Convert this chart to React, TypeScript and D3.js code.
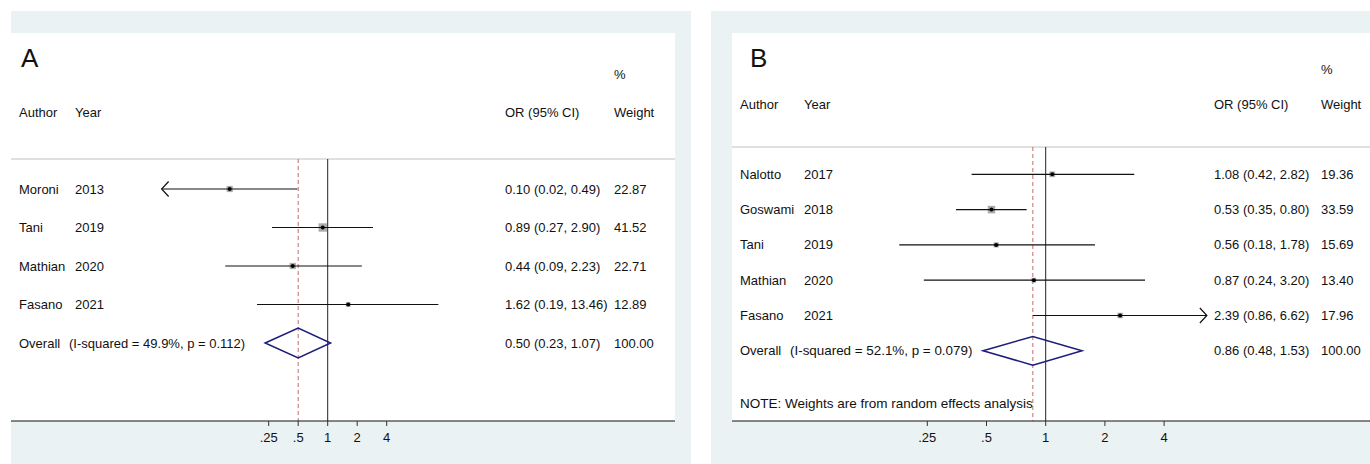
import React from 'react';
import * as d3 from 'd3';

// panel A data
const authorsA = ['Moroni', 'Tani', 'Mathian', 'Fasano'];
const yearsA = ['2013', '2019', '2020', '2021'];
const orA = [0.10, 0.89, 0.44, 1.62];
const lowA = [0.02, 0.27, 0.09, 0.19];
const highA = [0.49, 2.90, 2.23, 13.46];
const weightA = [22.87, 41.52, 22.71, 12.89];
const overallA = [0.50, 0.23, 1.07];
const hetA = '(I-squared = 49.9%, p = 0.112)';

// panel B data
const authorsB = ['Nalotto', 'Goswami', 'Tani', 'Mathian', 'Fasano'];
const yearsB = ['2017', '2018', '2019', '2020', '2021'];
const orB = [1.08, 0.53, 0.56, 0.87, 2.39];
const lowB = [0.42, 0.35, 0.18, 0.24, 0.86];
const highB = [2.82, 0.80, 1.78, 3.20, 6.62];
const weightB = [19.36, 33.59, 15.69, 13.40, 17.96];
const overallB = [0.86, 0.48, 1.53];
const hetB = '(I-squared = 52.1%, p = 0.079)';

const tickValues = [0.25, 0.5, 1, 2, 4];
const tickLabels = ['.25', '.5', '1', '2', '4'];

const BG = '#eaf2f3';
const FONT = '"Liberation Sans", Arial, Helvetica, sans-serif';
const fmt = (v) => v.toFixed(2);

function Panel(props) {
  const { p } = props;
  const n = p.authors.length;
  const x = d3.scaleLog().base(2).domain([0.25, 4]).range([p.x25, p.x4]);
  const y = d3.scaleLinear().domain([0, n]).range([p.firstY, p.lastY]);
  const top = p.sepY;
  const axisY = 421;

  const txt = (s, tx, ty, extra = {}) => (
    <text x={tx} y={ty} dy="0.35em" fontSize={13} fill="#111" {...extra}>{s}</text>
  );

  return (
    <g fontFamily={FONT}>
      {/* outer background and white plot region */}
      <rect x={p.outerX} y={11} width={p.outerW} height={453} fill={BG} />
      <rect x={p.innerX} y={33} width={p.innerW} height={axisY - 33} fill="#fff" />
      <line x1={p.innerX} x2={p.innerX + p.innerW} y1={top} y2={top} stroke="#d6d6d6" strokeWidth={1.5} />

      {txt(p.label, p.labelX, 58, { fontSize: 26 })}
      {txt('Author', p.nameX, p.headY)}
      {txt('Year', p.yearX, p.headY)}
      {txt('OR (95% CI)', p.orX, p.headY)}
      {txt('%', p.wX, p.pctY)}
      {txt('Weight', p.wX, p.headY)}

      {/* reference lines */}
      <line x1={x(1)} x2={x(1)} y1={top} y2={axisY} stroke="#222" strokeWidth={1} />
      <line x1={x(p.overall[0])} x2={x(p.overall[0])} y1={top} y2={axisY}
        stroke="#c0706f" strokeWidth={1} strokeDasharray="4,3" />

      {p.authors.map((a, i) => {
        const cy = y(i);
        const lo = Math.max(p.low[i], p.range[0]);
        const hi = Math.min(p.high[i], p.range[1]);
        const side = 1.3 * Math.sqrt(p.weight[i]);
        const cx = x(p.or[i]);
        return (
          <g key={a + i}>
            {txt(a, p.nameX, cy)}
            {txt(p.years[i], p.yearX, cy)}
            {txt(`${fmt(p.or[i])} (${fmt(p.low[i])}, ${fmt(p.high[i])})`, p.orX, cy)}
            {txt(fmt(p.weight[i]), p.wX, cy)}
            <rect x={cx - side / 2} y={cy - side / 2} width={side} height={side} fill="#ababab" />
            <line x1={x(lo)} x2={x(hi)} y1={cy} y2={cy} stroke="#111" strokeWidth={1.2} />
            <circle cx={cx} cy={cy} r={2} fill="#000" />
            {p.low[i] < p.range[0] && (
              <path d={`M${x(lo) + 7},${cy - 7.5}L${x(lo)},${cy}L${x(lo) + 7},${cy + 7.5}`}
                fill="none" stroke="#111" strokeWidth={1.2} />
            )}
            {p.high[i] > p.range[1] && (
              <path d={`M${x(hi) - 7},${cy - 7.5}L${x(hi)},${cy}L${x(hi) - 7},${cy + 7.5}`}
                fill="none" stroke="#111" strokeWidth={1.2} />
            )}
          </g>
        );
      })}

      {/* overall */}
      {txt('Overall', p.nameX, y(n))}
      {txt(p.het, p.nameX + 50, y(n), { fontSize: p.hetSize })}
      {txt(`${fmt(p.overall[0])} (${fmt(p.overall[1])}, ${fmt(p.overall[2])})`, p.orX, y(n))}
      {txt('100.00', p.wX, y(n))}
      <path
        d={`M${x(p.overall[1])},${y(n)}L${x(p.overall[0])},${y(n) - p.dh}L${x(p.overall[2])},${y(n)}L${x(p.overall[0])},${y(n) + p.dh}Z`}
        fill="none" stroke="#1c1c7c" strokeWidth={1.5} />

      {p.note && txt(p.note, p.nameX, 403, { fontSize: 13.5 })}

      {/* axis */}
      <line x1={p.innerX} x2={p.axisEnd} y1={axisY} y2={axisY} stroke="#111" strokeWidth={1} />
      {tickValues.map((t, i) => (
        <g key={t}>
          <line x1={x(t)} x2={x(t)} y1={axisY} y2={axisY + 5} stroke="#333" />
          <text x={x(t)} y={437} dy="0.35em" fontSize={13} textAnchor="middle" fill="#111">{tickLabels[i]}</text>
        </g>
      ))}
    </g>
  );
}

const panelAProps = {
  authors: authorsA, years: yearsA, or: orA, low: lowA, high: highA, weight: weightA,
  overall: overallA, het: hetA, hetSize: 13, label: 'A', range: [0.0202, 20],
  x25: 268.7, x4: 386.7, firstY: 189, lastY: 343, sepY: 159, dh: 15,
  outerX: 11, outerW: 680, innerX: 11, innerW: 664, axisEnd: 675,
  labelX: 21, nameX: 19, yearX: 75, orX: 505, wX: 614, headY: 112, pctY: 74,
};

const panelBProps = {
  authors: authorsB, years: yearsB, or: orB, low: lowB, high: highB, weight: weightB,
  overall: overallB, het: hetB, hetSize: 13.4, label: 'B', range: [0.05, 6.6],
  note: 'NOTE: Weights are from random effects analysis',
  x25: 927.3, x4: 1164.1, firstY: 174.3, lastY: 350.8, sepY: 147, dh: 14.3,
  outerX: 711, outerW: 659, innerX: 732, innerW: 638, axisEnd: 1370,
  labelX: 750, nameX: 740, yearX: 804, orX: 1214, wX: 1321, headY: 104, pctY: 69,
};

export default function App() {
  return (
    <svg width={1370} height={464} style={{ position: 'absolute', left: 0, top: 0, background: '#fff' }}>
      <Panel p={panelAProps} />
      <Panel p={panelBProps} />
    </svg>
  );
}
